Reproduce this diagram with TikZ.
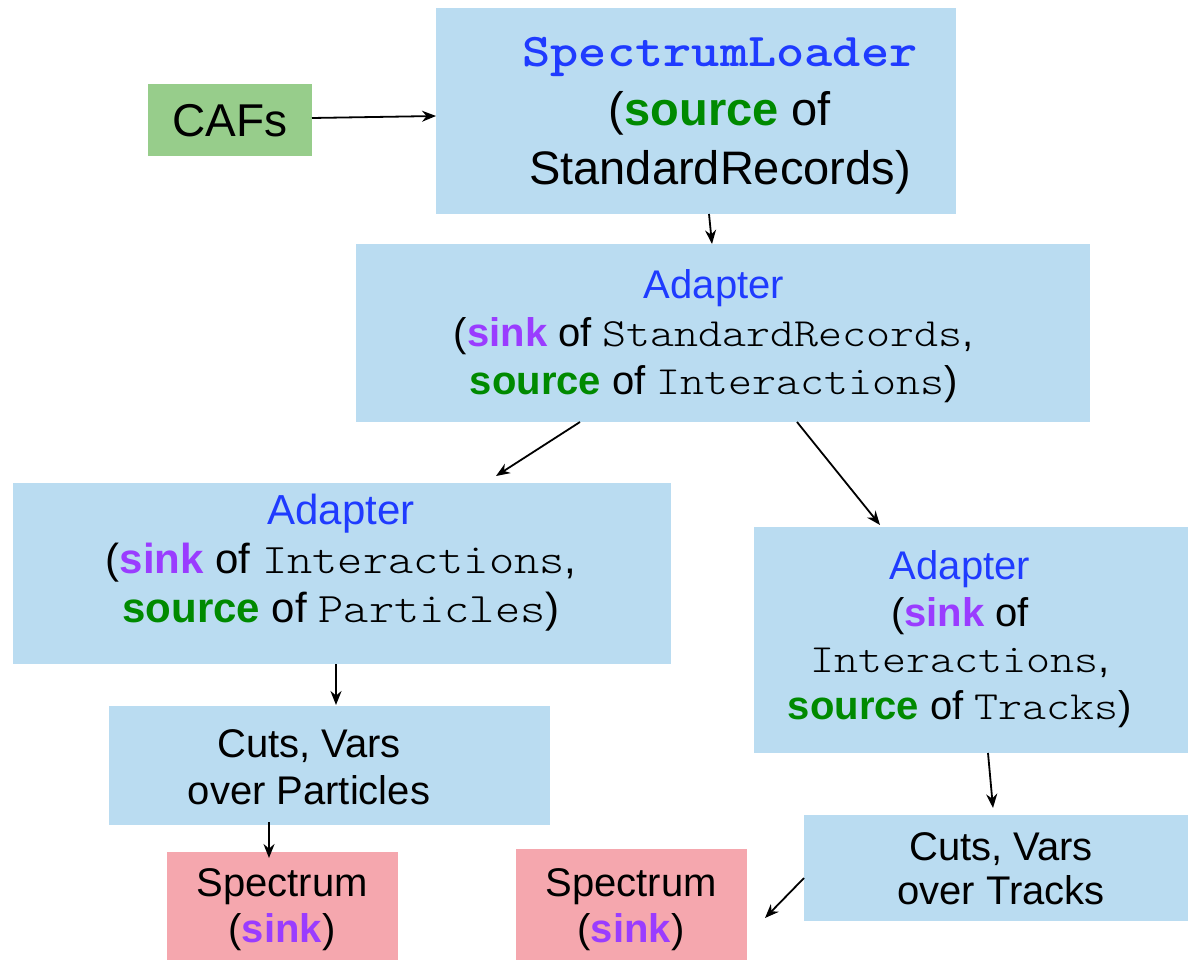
\documentclass[tikz,border=0pt]{standalone}
\usepackage{fontspec}
\setmainfont{Liberation Sans}
\setmonofont{lmmonolt10-regular.otf}[FakeStretch=1.143]
\newfontfamily\boldmono{lmmonolt10-bold.otf}[FakeStretch=1.143]
\usetikzlibrary{arrows.meta}
\definecolor{boxblue}{HTML}{BADCF1}
\definecolor{boxgreen}{HTML}{97CD8B}
\definecolor{boxpink}{HTML}{F5A7AE}
\definecolor{txtblue}{HTML}{1F3BFF}
\definecolor{txtgreen}{HTML}{008A00}
\definecolor{txtpurple}{HTML}{9A3CFF}
\newcommand\srcword{\textcolor{txtgreen}{\textbf{source}}}
\newcommand\snkword{\textcolor{txtpurple}{\textbf{sink}}}
\begin{document}
\begin{tikzpicture}[x=1pt,y=-1pt,
  box/.style={draw=none,inner sep=0pt,outer sep=0pt},
  bbox/.style={box,fill=boxblue},
  gbox/.style={box,fill=boxgreen},
  pbox/.style={box,fill=boxpink},
  lbl/.style={inner sep=0pt,align=center,text=black},
  arr/.style={line width=1.8pt,-{Stealth[length=14pt,width=11pt]}}]
\useasboundingbox (0,0) rectangle (1188,960);
% boxes
\node[gbox,minimum width=164pt,minimum height=72pt] (caf) at (230,120) {};
\node[bbox,minimum width=520pt,minimum height=206pt] (sl) at (696,111) {};
\node[bbox,minimum width=734pt,minimum height=178pt] (ad1) at (723,333) {};
\node[bbox,minimum width=658pt,minimum height=181pt] (ad2) at (342,573.5) {};
\node[bbox,minimum width=434pt,minimum height=226pt] (ad3) at (971,640) {};
\node[bbox,minimum width=441pt,minimum height=119pt] (cutp) at (329.5,765.5) {};
\node[bbox,minimum width=384pt,minimum height=106pt] (cutt) at (996,868) {};
\node[pbox,minimum width=231pt,minimum height=108pt] (sp1) at (282.5,906) {};
\node[pbox,minimum width=231pt,minimum height=111pt] (sp2) at (631.5,904.5) {};
% texts
\node[lbl,font=\fontsize{46}{55}\selectfont] (caft) at (230,121) {CAFs};
\node[lbl,font=\fontsize{47}{59}\selectfont] (slt) at (720,116)
  {\textcolor{txtblue}{\boldmono SpectrumLoader}\\(\srcword{} of\\StandardRecords)};
\node[lbl,font=\fontsize{40}{48}\selectfont] (ad1t) at (714,336)
  {\textcolor{txtblue}{Adapter}\\(\snkword{} of \texttt{StandardRecords},\\\srcword{} of \texttt{Interactions})};
\node[lbl,font=\fontsize{42}{49}\selectfont] (ad2t) at (341,563)
  {\textcolor{txtblue}{Adapter}\\(\snkword{} of \texttt{Interactions},\\\srcword{} of \texttt{Particles})};
\node[lbl,font=\fontsize{40}{46.5}\selectfont] (ad3t) at (960,639)
  {\textcolor{txtblue}{Adapter}\\(\snkword{} of\\\texttt{Interactions},\\\srcword{} of \texttt{Tracks})};
\node[lbl,font=\fontsize{40}{47}\selectfont] (cutpt) at (309,767) {Cuts, Vars\\over Particles};
\node[lbl,font=\fontsize{40}{44}\selectfont] (cuttt) at (1001,869) {Cuts, Vars\\over Tracks};
\node[lbl,font=\fontsize{40}{46}\selectfont] (sp1t) at (282,910) {Spectrum\\(\snkword)};
\node[lbl,font=\fontsize{40}{46}\selectfont] (sp2t) at (631,910) {Spectrum\\(\snkword)};
% connectors
\draw[arr] ([yshift=2pt]caf.east) -- ([yshift=-5pt]sl.west);
\draw[arr] ([xshift=13pt]sl.south) -- ([xshift=-11pt]ad1.north);
\draw[arr] ([xshift=-143pt]ad1.south) -- ([xshift=154pt,yshift=7pt]ad2.north);
\draw[arr] ([xshift=74pt]ad1.south) -- ([xshift=-91pt,yshift=2pt]ad3.north);
\draw[arr] ([xshift=-6pt]ad2.south) -- ([xshift=6.5pt,yshift=1pt]cutp.north);
\draw[arr] ([xshift=-60.5pt,yshift=3pt]cutp.south) -- ([xshift=-13.5pt,yshift=-6pt]sp1.north);
\draw[arr] ([xshift=17pt]ad3.south) -- ([xshift=-3pt,yshift=7pt]cutt.north);
\draw[arr] ([yshift=-10pt]cutt.west) -- ([xshift=18pt,yshift=-13.5pt]sp2.east);
\end{tikzpicture}
\end{document}
